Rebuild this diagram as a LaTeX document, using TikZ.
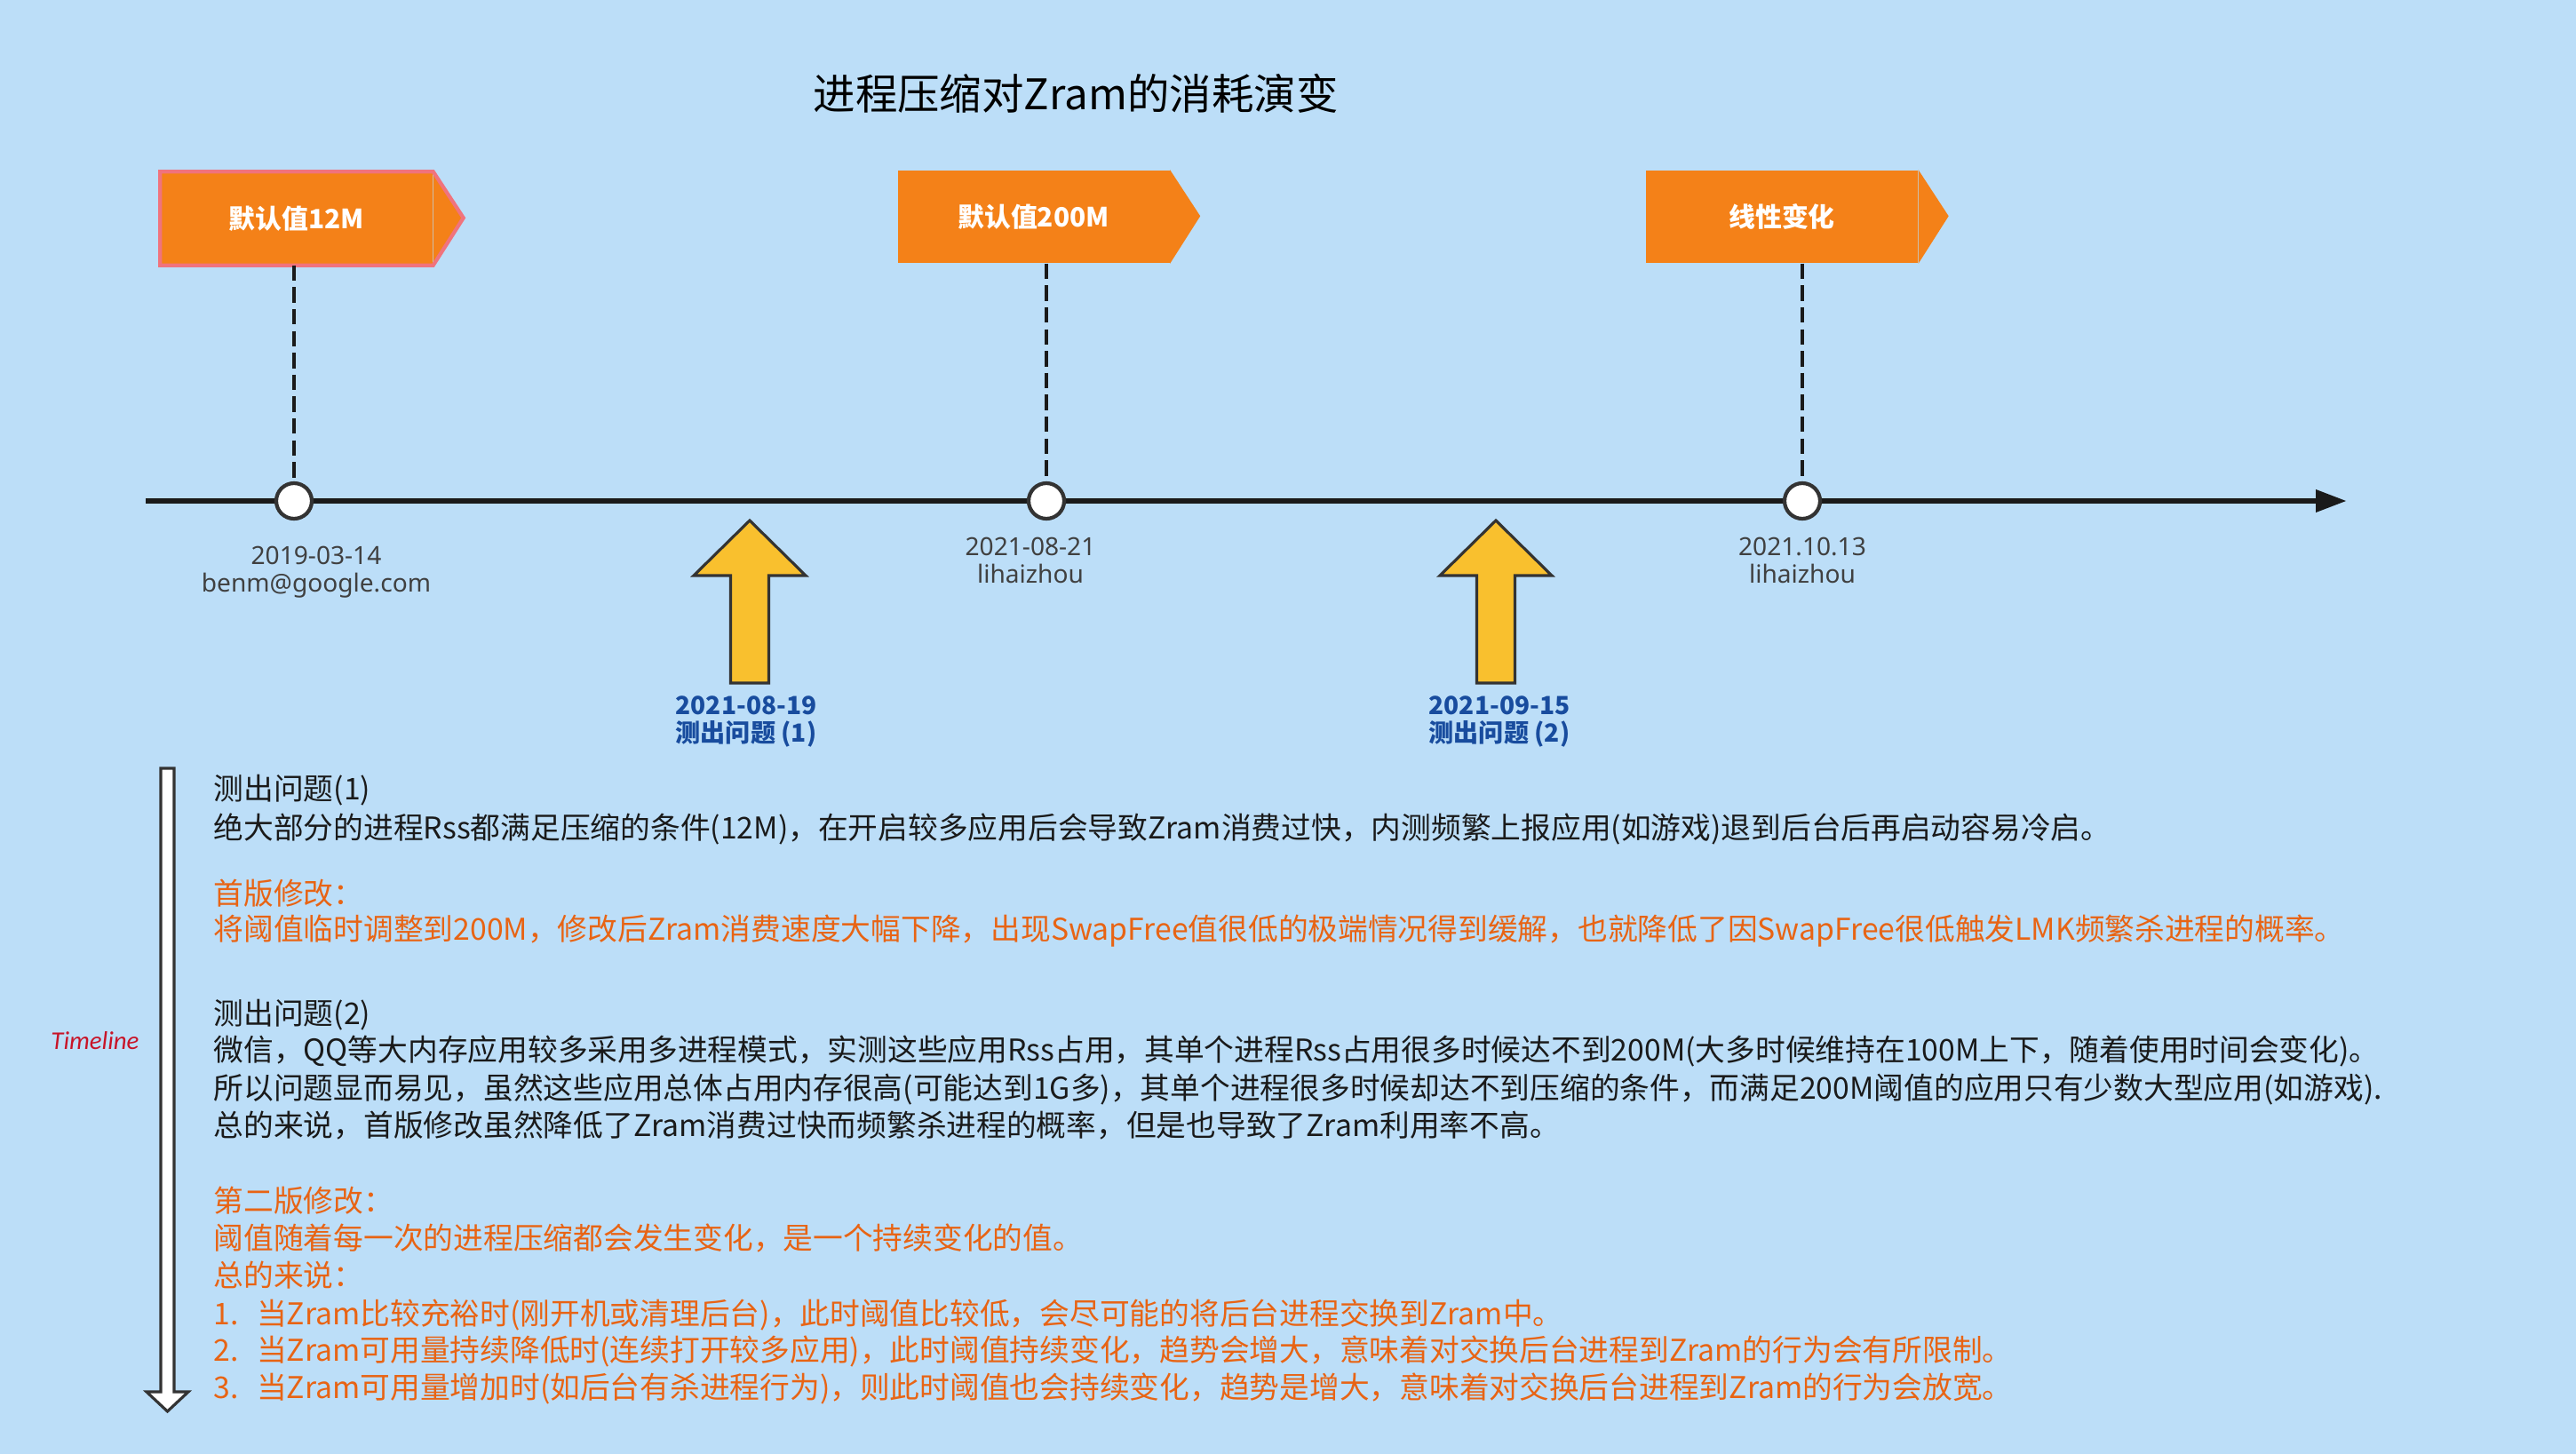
\documentclass[tikz,border=0pt]{standalone}
\usepackage{fontspec}
\setmainfont{Noto Sans}
\newfontfamily\cjk{Noto Sans CJK SC}
\newfontfamily\calib{Carlito}
\usepackage{xcolor}
\usepackage{tikz}
\usetikzlibrary{arrows.meta,positioning}
\definecolor{bgblue}{RGB}{188,222,248}
\definecolor{flagorange}{RGB}{244,129,24}
\definecolor{flagpink}{RGB}{240,115,125}
\definecolor{lineblack}{RGB}{26,26,26}
\definecolor{dotgray}{RGB}{51,51,51}
\definecolor{upyellow}{RGB}{249,192,46}
\definecolor{probeblue}{RGB}{24,76,158}
\definecolor{stampgray}{RGB}{64,64,64}
\definecolor{tlred}{RGB}{200,20,40}
\definecolor{fixorange}{RGB}{232,100,20}

\begin{document}
\begin{tikzpicture}[
flagbox/.style={fill=flagorange,minimum width=3.06cm,minimum height=1.04cm,inner sep=0pt,text=white,font=\cjk\bfseries\fontsize{8.5}{10}\selectfont},
dot/.style={circle,draw=dotgray,line width=1.2pt,fill=white,minimum size=0.4cm,inner sep=0pt},
leader/.style={draw=lineblack,line width=1.1pt,dash pattern=on 5pt off 2pt},
stamp/.style={text=stampgray,align=center,inner sep=0pt,font=\fontsize{8}{8.8}\selectfont},
probe/.style={text=probeblue,align=center,inner sep=0pt,font=\cjk\bfseries\fontsize{8}{8.8}\selectfont},
uparrow/.style={fill=upyellow,draw=dotgray,line width=0.9pt},
body/.style={anchor=base west,inner sep=0pt,text=lineblack,font=\cjk\fontsize{9.6}{12}\selectfont},
fixtext/.style={body,text=fixorange}]
\fill[bgblue](0,0)rectangle(29,-16.37);

\node[font=\cjk\fontsize{13.5}{16}\selectfont](title)at(12.11,-1.05){进程压缩对Zram的消耗演变};

\coordinate(tlstart)at(1.64,-5.64);
\coordinate(tlend)at(26.42,-5.64);
\draw[lineblack,line width=1.9pt,-{Triangle[length=3.5mm,width=2.4mm]}](tlstart)--(tlend);

\node[flagbox](f1)at(3.34,-2.46){默认值12M};
\fill[flagorange](f1.north east)--++(0.34,-0.52)--(f1.south east)--cycle;
\draw[flagpink,line width=1.2pt](f1.north west)--(f1.north east)--++(0.34,-0.52)--(f1.south east)--(f1.south west)--cycle;
\node[flagbox](f2)at(11.635,-2.44){默认值200M};
\fill[flagorange](f2.north east)--++(0.34,-0.52)--(f2.south east)--cycle;
\node[flagbox](f3)at(20.06,-2.44){线性变化};
\fill[flagorange](f3.north east)--++(0.34,-0.52)--(f3.south east)--cycle;

\node[dot](d1)at(3.31,-5.64){};
\node[dot](d2)at(11.78,-5.64){};
\node[dot](d3)at(20.29,-5.64){};
\draw[leader](f1.south -| d1)--(d1.north);
\draw[leader](f2.south -| d2)--(d2.north);
\draw[leader](f3.south -| d3)--(d3.north);

\node[stamp](s1)at(3.56,-6.44){2019-03-14\\benm@google.com};
\node[stamp](s2)at(11.60,-6.31){2021-08-21\\lihaizhou};
\node[stamp](s3)at(20.29,-6.31){2021.10.13\\lihaizhou};

\draw[uparrow](8.225,-7.69)--(8.225,-6.48)--(7.81,-6.48)--(8.44,-5.86)--(9.07,-6.48)--(8.655,-6.48)--(8.655,-7.69)--cycle;
\draw[uparrow](16.625,-7.69)--(16.625,-6.48)--(16.21,-6.48)--(16.84,-5.86)--(17.47,-6.48)--(17.055,-6.48)--(17.055,-7.69)--cycle;
\node[probe](p1)at(8.40,-8.125){2021-08-19\\测出问题 (1)};
\node[probe](p2)at(16.88,-8.125){2021-09-15\\测出问题 (2)};

\draw[fill=white,draw=dotgray,line width=0.9pt](1.81,-8.65)--(1.96,-8.65)--(1.96,-15.67)--(2.12,-15.67)--(1.885,-15.89)--(1.65,-15.67)--(1.81,-15.67)--cycle;
\node[text=tlred,font=\calib\itshape\fontsize{8.2}{10}\selectfont](tlname)at(1.07,-11.72){Timeline};

\node[body](q1h)at(2.40,-9.00){测出问题(1)};
\node[body](q1)at(2.40,-9.44){绝大部分的进程Rss都满足压缩的条件(12M)，在开启较多应用后会导致Zram消费过快，内测频繁上报应用(如游戏)退到后台后再启动容易冷启。};
\node[fixtext](fix1h)at(2.40,-10.18){首版修改：};
\node[fixtext](fix1)at(2.40,-10.58){将阈值临时调整到200M，修改后Zram消费速度大幅下降，出现SwapFree值很低的极端情况得到缓解，也就降低了因SwapFree很低触发LMK频繁杀进程的概率。};
\node[body](q2h)at(2.40,-11.53){测出问题(2)};
\node[body](q2a)at(2.40,-11.94){微信，QQ等大内存应用较多采用多进程模式，实测这些应用Rss占用，其单个进程Rss占用很多时候达不到200M(大多时候维持在100M上下，随着使用时间会变化)。};
\node[body](q2b)at(2.40,-12.37){所以问题显而易见，虽然这些应用总体占用内存很高(可能达到1G多)，其单个进程很多时候却达不到压缩的条件，而满足200M阈值的应用只有少数大型应用(如游戏).};
\node[body](q2c)at(2.40,-12.79){总的来说，首版修改虽然降低了Zram消费过快而频繁杀进程的概率，但是也导致了Zram利用率不高。};
\node[fixtext](fix2h)at(2.40,-13.64){第二版修改：};
\node[fixtext](fix2)at(2.40,-14.06){阈值随着每一次的进程压缩都会发生变化，是一个持续变化的值。};
\node[fixtext](sumh)at(2.40,-14.48){总的来说：};
\node[fixtext](sum1)at(2.40,-14.91){1.\hspace{0.6em}当Zram比较充裕时(刚开机或清理后台)，此时阈值比较低，会尽可能的将后台进程交换到Zram中。};
\node[fixtext](sum2)at(2.40,-15.32){2.\hspace{0.6em}当Zram可用量持续降低时(连续打开较多应用)，此时阈值持续变化，趋势会增大，意味着对交换后台进程到Zram的行为会有所限制。};
\node[fixtext](sum3)at(2.40,-15.74){3.\hspace{0.6em}当Zram可用量增加时(如后台有杀进程行为)，则此时阈值也会持续变化，趋势是增大，意味着对交换后台进程到Zram的行为会放宽。};
\end{tikzpicture}
\end{document}
